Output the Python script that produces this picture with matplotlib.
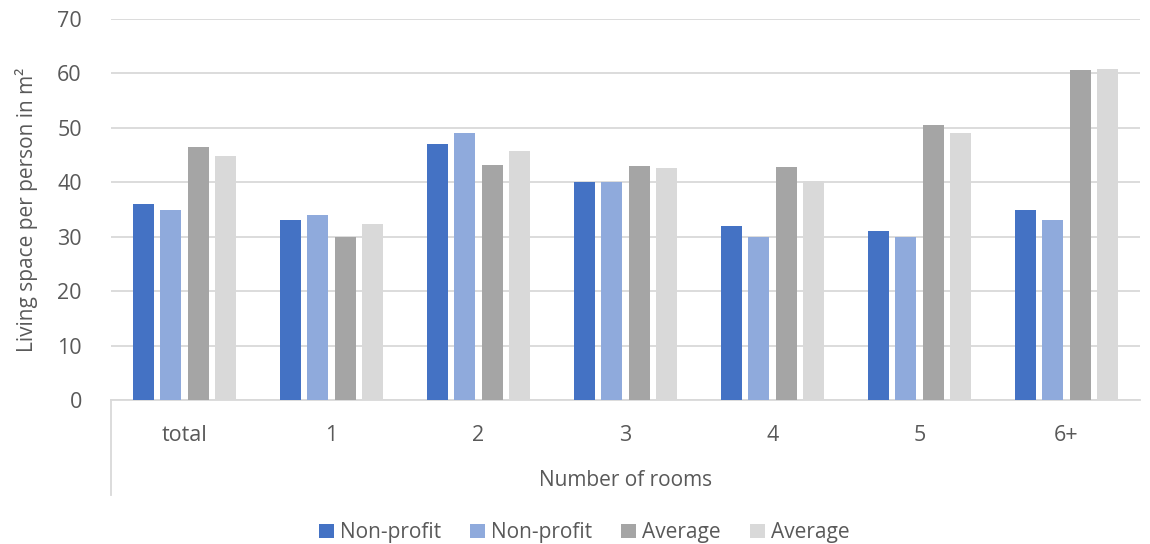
import numpy as np
import matplotlib.pyplot as plt
from matplotlib.lines import Line2D

plt.rcParams['font.family'] = ['Open Sans', 'DejaVu Sans']

categories = ['total', '1', '2', '3', '4', '5', '6+']
nonprofit_a = [36, 33, 47, 40, 32, 31, 35]
nonprofit_b = [35, 34, 49, 40, 30, 30, 33]
average_a = [46.5, 30, 43.1, 43.0, 42.9, 50.6, 60.7]
average_b = [44.9, 32.3, 45.7, 42.6, 40.2, 49.1, 60.9]
series_names = ['Non-profit', 'Non-profit', 'Average', 'Average']
colors = ['#4472C4', '#8FAADC', '#A5A5A5', '#D9D9D9']

text_color = '#595959'

fig = plt.figure(figsize=(11.5, 5.44), dpi=100)
ax = fig.add_axes([111 / 1150, 144 / 544, 1029 / 1150, 381 / 544])

x = np.arange(len(categories))
width = 0.143
step = 0.186
all_series = [nonprofit_a, nonprofit_b, average_a, average_b]
for i, (vals, name, c) in enumerate(zip(all_series, series_names, colors)):
    ax.bar(x + (i - 1.5) * step, vals, width, color=c, label=name, zorder=3)

ax.set_xlim(-0.5, len(categories) - 0.5)
ax.set_ylim(0, 70)
ax.set_yticks(range(0, 71, 10))
ax.set_xticks(x)
ax.set_xticklabels(categories)
ax.grid(axis='y', color='#D9D9D9', linewidth=1.3, zorder=0)
ax.tick_params(axis='both', length=0, labelsize=15.5, colors=text_color)
ax.tick_params(axis='x', pad=18)
ax.tick_params(axis='y', pad=21)
for s in ['top', 'right', 'left']:
    ax.spines[s].set_visible(False)
ax.spines['bottom'].set_color('#D9D9D9')
ax.spines['bottom'].set_linewidth(1.3)

ax.set_xlabel('Number of rooms', fontsize=15, color=text_color, labelpad=17)
ax.set_ylabel('Living space per person in m²', fontsize=15, color=text_color, labelpad=14)

# left edge of the category axis box
fig.add_artist(Line2D([111 / 1150, 111 / 1150], [144 / 544, 49 / 544],
                      color='#D9D9D9', linewidth=1.3))

ax.legend(loc='lower center', bbox_to_anchor=(0.46, -0.425), ncol=4, frameon=False,
          fontsize=15, labelcolor=text_color, handlelength=0.7, handleheight=0.7,
          handletextpad=0.3, columnspacing=1.4)

fig.savefig('out.png', dpi=100)
